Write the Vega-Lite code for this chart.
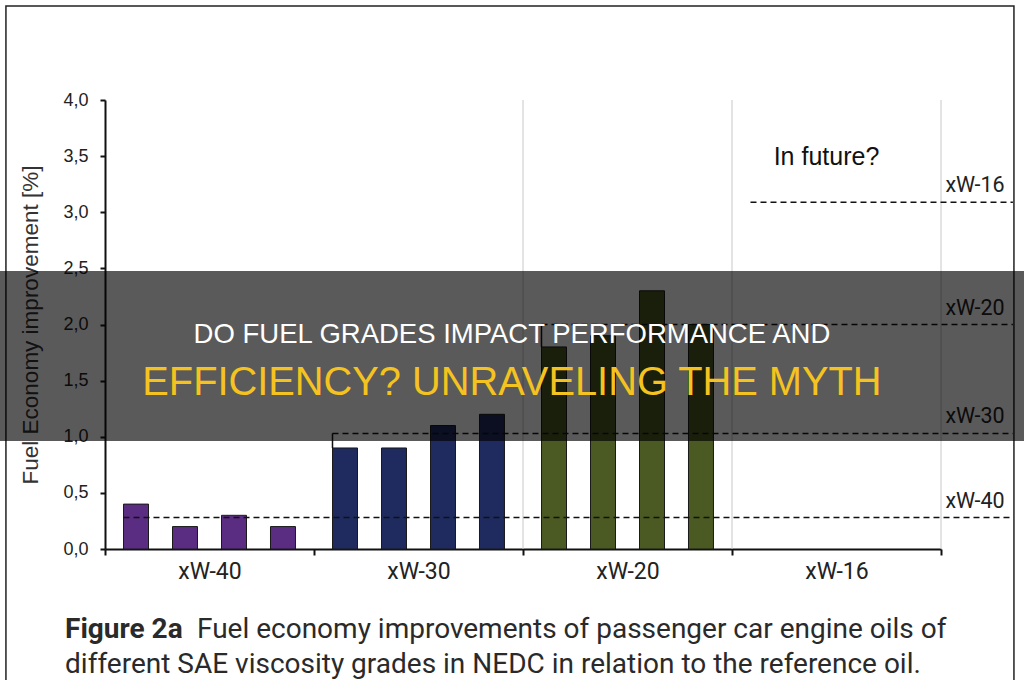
{
  "$schema": "https://vega.github.io/schema/vega-lite/v6.json",
  "autosize": "none",
  "width": 836,
  "height": 449,
  "padding": {"left": 105, "top": 100, "right": 83, "bottom": 131},
  "background": "white",
  "config": {"view": {"stroke": null}},
  "datasets": {
    "bars": [
      {"grade": "xW-40", "oil": 1, "value": 0.4},
      {"grade": "xW-40", "oil": 2, "value": 0.2},
      {"grade": "xW-40", "oil": 3, "value": 0.3},
      {"grade": "xW-40", "oil": 4, "value": 0.2},
      {"grade": "xW-30", "oil": 1, "value": 0.9},
      {"grade": "xW-30", "oil": 2, "value": 0.9},
      {"grade": "xW-30", "oil": 3, "value": 1.1},
      {"grade": "xW-30", "oil": 4, "value": 1.2},
      {"grade": "xW-20", "oil": 1, "value": 1.8},
      {"grade": "xW-20", "oil": 2, "value": 1.9},
      {"grade": "xW-20", "oil": 3, "value": 2.3},
      {"grade": "xW-20", "oil": 4, "value": 2.0}
    ],
    "refs": [
      {"grade": "xW-40", "ref": 0.28, "start": 0.0885},
      {"grade": "xW-30", "ref": 1.03, "start": 1.0885},
      {"grade": "xW-20", "ref": 2.0, "start": 2.0885},
      {"grade": "xW-16", "ref": 3.09, "start": 3.0885}
    ],
    "connectors": [
      {"start": 1.0885, "low": 0.9, "ref": 1.03},
      {"start": 2.0885, "low": 1.8, "ref": 2.0}
    ],
    "bounds": [{"b": 2}, {"b": 3}, {"b": 4}]
  },
  "resolve": {"scale": {"x": "independent", "y": "independent"}},
  "layer": [
    {
      "layer": [
        {
          "data": {"values": [{}]},
          "mark": {"type": "rect", "filled": false, "stroke": "#222", "strokeWidth": 1.5},
          "encoding": {
            "x": {"datum": -0.474, "type": "quantitative", "scale": {"domain": [0, 4], "nice": false, "zero": false}, "axis": null},
            "x2": {"datum": 4.349},
            "y": {"datum": 4.837, "type": "quantitative", "scale": {"domain": [0, 4], "nice": false, "zero": false}, "axis": null},
            "y2": {"datum": -1.5}
          }
        },
        {
          "data": {"name": "bounds"},
          "mark": {"type": "rule", "color": "#c8c8c8", "strokeWidth": 1},
          "encoding": {
            "x": {"field": "b", "type": "quantitative", "scale": {"domain": [0, 4], "nice": false, "zero": false}, "axis": null},
            "y": {"datum": 0, "type": "quantitative", "scale": {"domain": [0, 4], "nice": false, "zero": false}, "axis": null},
            "y2": {"datum": 4}
          }
        }
      ]
    },
    {
      "data": {"name": "bars"},
      "mark": {"type": "bar", "stroke": "#1a1a1a", "strokeWidth": 1},
      "encoding": {
        "x": {
          "field": "grade", "type": "nominal", "sort": null,
          "scale": {"domain": ["xW-40", "xW-30", "xW-20", "xW-16"], "paddingInner": 0, "paddingOuter": 0},
          "axis": {
            "title": null, "domainColor": "#111", "domainWidth": 2, "tickColor": "#111", "tickWidth": 2,
            "tickSize": 6, "tickBand": "extent", "labelAngle": 0, "labelFont": "Roboto", "labelFontSize": 23,
            "labelColor": "#222", "labelPadding": 5, "grid": false
          }
        },
        "xOffset": {"field": "oil", "type": "nominal", "scale": {"paddingInner": 0.49, "paddingOuter": 0.378}},
        "y": {
          "field": "value", "type": "quantitative",
          "scale": {"domain": [0, 4], "nice": false},
          "axis": {
            "title": "Fuel Economy improvement [%]",
            "values": [0, 0.5, 1, 1.5, 2, 2.5, 3, 3.5, 4],
            "labelExpr": "replace(format(datum.value, '.1f'), '.', ',')",
            "labelFont": "Liberation Sans", "labelFontSize": 18, "labelColor": "#222", "labelPadding": 12,
            "tickSize": 5, "tickColor": "#111", "tickWidth": 2, "domainColor": "#111", "domainWidth": 2,
            "grid": false, "titleFont": "Liberation Sans", "titleFontSize": 22.5, "titleFontWeight": "normal",
            "titleColor": "#333", "titlePadding": 20
          }
        },
        "color": {
          "field": "grade", "type": "nominal",
          "scale": {"domain": ["xW-40", "xW-30", "xW-20"], "range": ["#5a2d82", "#1f2b5e", "#4b5a23"]},
          "legend": null
        }
      }
    },
    {
      "layer": [
        {
          "data": {"name": "refs"},
          "mark": {"type": "rule", "color": "#111", "strokeWidth": 1.5, "strokeDash": [6, 4]},
          "encoding": {
            "x": {"field": "start", "type": "quantitative", "scale": {"domain": [0, 4], "nice": false, "zero": false}, "axis": null},
            "x2": {"datum": 4.344},
            "y": {"field": "ref", "type": "quantitative", "scale": {"domain": [0, 4], "nice": false, "zero": false}, "axis": null}
          }
        },
        {
          "data": {"name": "connectors"},
          "mark": {"type": "rule", "color": "#111", "strokeWidth": 1.5},
          "encoding": {
            "x": {"field": "start", "type": "quantitative"},
            "y": {"field": "low", "type": "quantitative"},
            "y2": {"field": "ref"}
          }
        },
        {
          "data": {"name": "refs"},
          "mark": {"type": "text", "font": "Roboto", "fontSize": 21.5, "color": "#222", "dy": -16, "align": "center", "baseline": "middle"},
          "encoding": {
            "x": {"datum": 4.163, "type": "quantitative"},
            "y": {"field": "ref", "type": "quantitative"},
            "text": {"field": "grade"}
          }
        },
        {
          "data": {"values": [{}]},
          "mark": {"type": "text", "text": "In future?", "font": "Liberation Sans", "fontSize": 25, "color": "#111", "align": "center", "baseline": "middle"},
          "encoding": {
            "x": {"datum": 3.452, "type": "quantitative"},
            "y": {"datum": 3.492, "type": "quantitative"}
          }
        },
        {
          "data": {"values": [{}]},
          "mark": {"type": "rect", "color": "#000", "opacity": 0.647},
          "encoding": {
            "x": {"datum": -0.6, "type": "quantitative"},
            "x2": {"datum": 4.5},
            "y": {"datum": 0.962, "type": "quantitative"},
            "y2": {"datum": 2.4766}
          }
        },
        {
          "data": {"values": [{}]},
          "mark": {"type": "text", "text": "DO FUEL GRADES IMPACT PERFORMANCE AND", "font": "Liberation Sans", "fontSize": 27.5, "color": "#ffffff", "align": "center", "baseline": "alphabetic"},
          "encoding": {
            "x": {"datum": 1.947, "type": "quantitative"},
            "y": {"datum": 1.835, "type": "quantitative"}
          }
        },
        {
          "data": {"values": [{}]},
          "mark": {"type": "text", "text": "EFFICIENCY? UNRAVELING THE MYTH", "font": "Liberation Sans", "fontSize": 39.8, "color": "#f5c31f", "align": "center", "baseline": "alphabetic"},
          "encoding": {
            "x": {"datum": 1.947, "type": "quantitative"},
            "y": {"datum": 1.372, "type": "quantitative"}
          }
        },
        {
          "data": {"values": [{}]},
          "mark": {"type": "text", "text": "Figure 2a", "font": "Roboto", "fontWeight": "bold", "fontSize": 28, "color": "#2a2a2a", "align": "left", "baseline": "alphabetic"},
          "encoding": {
            "x": {"datum": -0.191, "type": "quantitative"},
            "y": {"datum": -0.793, "type": "quantitative"}
          }
        },
        {
          "data": {"values": [{}]},
          "mark": {"type": "text", "text": "Fuel economy improvements of passenger car engine oils of", "font": "Roboto", "fontSize": 28, "color": "#2a2a2a", "align": "left", "baseline": "alphabetic"},
          "encoding": {
            "x": {"datum": 0.44, "type": "quantitative"},
            "y": {"datum": -0.793, "type": "quantitative"}
          }
        },
        {
          "data": {"values": [{}]},
          "mark": {"type": "text", "text": "different SAE viscosity grades in NEDC in relation to the reference oil.", "font": "Roboto", "fontSize": 28, "color": "#2a2a2a", "align": "left", "baseline": "alphabetic"},
          "encoding": {
            "x": {"datum": -0.191, "type": "quantitative"},
            "y": {"datum": -1.105, "type": "quantitative"}
          }
        }
      ]
    }
  ]
}
